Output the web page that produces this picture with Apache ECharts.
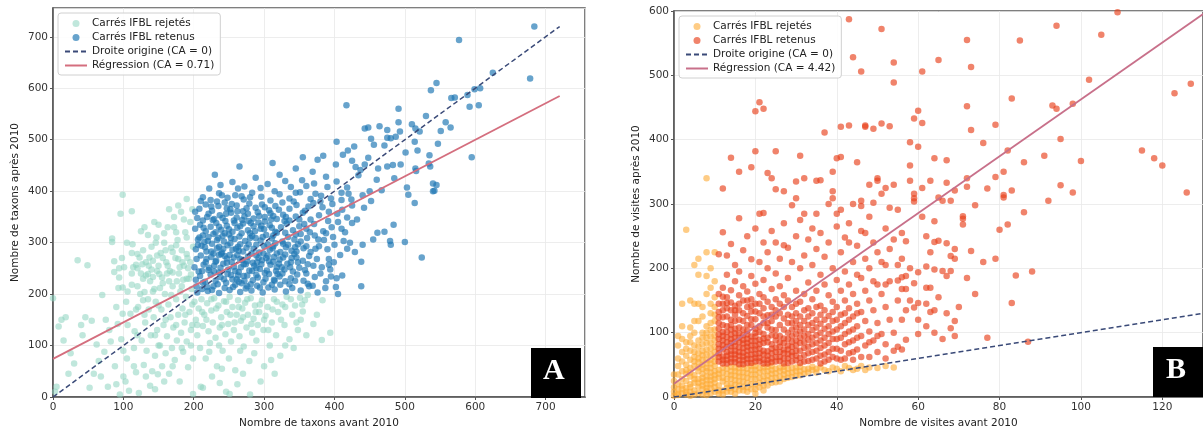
<!DOCTYPE html>
<html><head><meta charset="utf-8">
<script src="https://cdn.jsdelivr.net/npm/echarts@6/dist/echarts.min.js"></script>
<style>html,body{margin:0;padding:0;background:#fff;overflow:hidden}#c{width:1203px;height:434px}</style>
</head><body><div id="c"></div>
<script>
// ---------- Panel A : taxa ----------
const aRetained = [
[205,203],[212,210],[220,206],[228,215],[236,202],[244,212],[251,208],[259,218],[266,204],[274,211],[282,207],[290,216],[298,203],[306,213],[315,209],[323,218],[331,205],[340,212],[352,207],[364,215],[376,203],[402,214],[405,200],[438,215],
[203,228],[209,235],[216,224],[224,238],[231,226],[238,233],[246,222],[253,237],[261,229],[268,221],[276,236],[284,227],[291,232],[299,223],[307,239],[314,228],[322,234],[330,225],[338,231],[347,238],[356,226],[362,220],[372,233],[388,225],[395,234],[403,231],[411,236],
[201,252],[207,244],[214,257],[221,247],[229,255],[236,242],[242,259],[249,248],[257,253],[264,243],[271,258],[279,246],[286,255],[294,249],[301,241],[309,257],[317,245],[325,252],[333,259],[341,244],[350,251],[358,247],[370,255],[382,252],[392,257],[438,263],
[204,268],[210,275],[217,262],[225,272],[232,265],[239,278],[247,269],[254,262],[262,276],[269,266],[277,273],[284,261],[292,270],[299,279],[307,264],[314,272],[322,267],[330,277],[338,262],[346,271],[355,265],[364,274],[375,268],[392,268],[399,262],[524,271],
[203,287],[211,294],[218,283],[226,298],[233,289],[240,281],[248,295],[255,286],[263,292],[270,283],[278,297],[285,288],[293,281],[300,293],[308,286],[316,299],[323,282],[331,291],[339,284],[348,297],[356,289],[366,282],[378,293],[390,287],[429,282],[440,296],[480,296],[500,301],
[206,306],[213,314],[220,303],[228,317],[235,309],[243,302],[250,316],[258,307],[265,312],[273,303],[280,318],[288,309],[295,304],[303,315],[311,308],[318,319],[326,302],[334,311],[343,306],[352,317],[361,309],[372,314],[385,305],[398,311],[413,303],[455,306],[461,319],[471,321],[479,303],
[202,327],[209,335],[217,322],[224,331],[232,338],[239,325],[247,333],[255,321],[262,329],[270,337],[277,324],[285,332],[292,339],[300,326],[308,334],[316,321],[324,330],[332,337],[341,324],[350,332],[360,327],[371,336],[384,322],[396,330],[410,327],[425,338],[484,335],
[205,348],[213,343],[221,356],[229,346],[237,353],[245,342],[253,358],[261,349],[269,344],[277,356],[285,347],[293,352],[301,341],[309,357],[318,346],[327,354],[336,343],[345,351],[355,358],[366,345],[378,353],[391,342],[404,356],[418,349],[432,345],
[208,366],[217,374],[226,362],[235,371],[244,378],[252,365],[261,372],[270,361],[279,376],[288,368],[297,374],[307,363],[316,371],[326,378],[336,366],[346,373],[358,362],[370,377],[383,369],[397,375],[411,364],[425,372],[442,368],[514,377],
[213,388],[224,383],[236,396],[248,387],[259,392],[271,384],[283,397],[296,389],[309,382],[322,394],[336,386],[351,398],[366,385],[381,391],[395,386],[410,397],[424,384],[440,392],[452,381],[450,400],[467,402],[505,393],[540,400],[542,401],[545,412],
[222,405],[238,412],[255,418],[272,409],[288,426],[305,414],[322,432],[338,408],[354,421],[371,415],[388,428],[403,419],[418,407],[434,431],[460,422],[485,425],[503,407],[540,415],[369,438],[230,432],[295,406],
[265,448],[312,455],[345,444],[376,461],[384,469],[402,452],[419,479],[412,471],[430,447],[443,452],[456,490],[452,502],[355,466],[425,459],[437,441],[448,465],[462,444],[475,448],[501,475],[518,479],[535,470],[534,454],[536,448],[515,444],[516,439],
[403,496],[443,522],[448,524],[464,526],[475,519],[491,534],[475,504],[480,503],[487,506],[493,516],[510,530],[515,522],[521,516],[514,496],[530,546],[551,517],[558,534],[565,524],[547,492],[595,466],[417,567],[491,560],[483,451],[494,452],[471,489],[428,487],
[537,596],[545,610],[566,581],[571,582],[589,587],[592,564],[605,567],[599,598],[607,600],[625,630],[577,694],[678,619],[684,720],
[222,251],[231,263],[242,288],[251,276],[266,297],[274,258],[283,245],[297,266],[312,289],[318,252],[244,318],[233,305],[258,338],[287,322],[305,275],[271,235],[255,229],[289,237],[216,291],[208,310],[227,344],[246,356],[264,284],[280,309],[295,327],[310,345],[334,296],[346,283],[360,293],[276,215],[219,214],[236,276],[290,262],[301,350],[248,239],[264,224],[212,245],[225,283],[326,240],[339,270],[315,226],[278,342],[262,361],[233,380],[247,367],[268,390],
[204,215],[213,222],[226,208],[234,219],[243,229],[256,214],[263,236],[272,226],[281,219],[294,213],[302,230],[311,218],[319,239],[336,219],[344,226],[229,244],[238,251],[247,261],[259,245],[267,252],[276,264],[289,250],[296,258],[304,246],[313,263],[321,259],[329,248],[337,252],[218,268],[228,279],[244,274],[257,271],[266,268],[282,279],[289,275],[303,270],[318,279],[327,271],[343,278],[206,296],[215,301],[236,292],[252,299],[260,288],[275,290],[289,296],[305,297],[313,293],[327,298],[344,291],[221,311],[231,320],[241,313],[253,309],[268,318],[283,313],[298,311],[313,314],[330,319],[345,316],[214,329],[236,331],[250,326],[266,332],[281,338],[296,333],[311,329],[329,342],[357,336],[219,350],[241,348],[257,343],[272,351],[291,359],[313,352],[331,350],[350,345],[225,370],[254,375],[275,367],[301,369],[321,364],[342,380],[363,370],[380,380],[392,360],[405,340],[415,320],[422,300],[418,288],[408,276],[394,248],[380,240],[369,216],[387,212],[360,240],[377,306],[365,320],[388,318],[400,296],[352,302],[362,258],[348,262],[373,288],[202,360],[210,381],[240,392],[263,405],[280,388],[315,400],[330,420],[345,397],[360,410],[373,395],[390,408],[410,383],[420,395]
];
const aRejected = [
[0,192],[3,10],[5,20],[8,137],[12,150],[15,110],[18,155],[22,45],[25,85],[30,65],[35,266],[40,140],[42,120],[46,155],[49,256],[52,18],[55,148],[58,45],[62,102],[65,70],[68,40],[70,198],[73,88],[75,150],[78,20],[80,130],[82,108],[84,308],[84,301],[87,264],[87,243],[88,60],[90,175],[92,142],[93,212],[94,250],[94,232],[95,5],[96,356],[97,112],[99,393],[99,213],[99,162],[100,90],
[101,252],[103,30],[104,185],[105,75],[106,140],[108,12],[110,162],[112,361],[112,218],[113,297],[114,252],[115,95],[116,128],[118,257],[118,48],[120,278],[121,175],[122,8],[123,271],[124,200],[125,322],[126,110],[127,258],[128,188],[129,62],[130,204],[131,145],[132,236],[133,90],[135,239],[136,170],[137,271],[138,22],[139,120],[140,292],[141,50],[142,265],[142,233],[143,155],[144,210],[145,80],[146,185],[147,310],[148,130],[149,44],[150,255],
[151,239],[152,100],[153,280],[154,170],[155,60],[156,221],[157,140],[158,300],[159,200],[160,85],[161,262],[162,118],[163,330],[164,180],[165,45],[166,245],[167,155],[168,290],[169,95],[170,215],[171,135],[172,350],[173,72],[174,270],[175,190],[176,110],[177,305],[178,160],[179,240],[180,30],[181,205],[182,125],[183,285],[184,172],[185,88],[186,255],[187,145],[188,320],[189,195],[190,108],[191,270],[192,58],[193,230],[194,165],[195,340],[196,130],[197,210],[198,180],[199,292],[199,75],
[201,185],[203,150],[205,120],[207,172],[209,95],[211,190],[213,138],[215,160],[217,75],[219,182],[221,128],[223,105],[225,168],[227,145],[229,192],[231,115],[233,60],[235,178],[237,135],[239,155],[241,90],[243,186],[245,122],[247,165],[249,142],[251,195],[253,108],[255,175],[257,130],[259,52],[261,160],[263,188],[265,118],[267,148],[269,172],[271,98],[273,183],[275,135],[277,160],[279,70],[281,192],[283,125],[285,152],[287,178],[289,110],[291,140],[293,165],[295,30],[297,188],[299,130],[302,158],[305,175],[308,100],[311,145],[314,190],[317,120],[320,165],[323,80],[326,180],[329,140],[332,195],[336,112],[340,160],[344,178],[348,130],[352,150],[355,166],[358,188],[362,198],[370,142],[382,111],[383,188],[394,125],[351,193],[210,20],[226,40],[246,10],[262,25],[280,5],[240,55],[300,60],[315,45],[330,100],[270,45],[199,6],[213,18],[237,27],[251,6],
[125,240],[132,262],[140,248],[148,275],[155,232],[163,255],[170,242],[178,268],[185,228],[192,250],[128,285],[146,300],[160,285],[175,295],[190,278],[138,225],[152,212],[168,198],[183,215],[196,238],[120,215],[135,190],[150,178],[165,225],[180,252],[195,262],[158,318],[172,330],[186,345],[198,365],[178,372],[165,365],[190,310],[144,340],[130,330],
[205,140],[212,165],[218,150],[225,190],[232,172],[240,140],[246,185],[252,160],[258,145],[264,175],[270,155],[276,190],[282,142],[288,165],[294,180],[300,150],[306,130],[312,170],[318,185],[324,150],[330,175],[338,190],[346,145],[354,180],[222,88],[236,100],[250,75],[266,90],[286,85],[310,72],[342,95],[360,120],[375,160],[190,230],[184,262],[176,225],[170,282],[162,240],[156,270],[148,245],[142,205],[136,255],[128,230],[120,250],[112,240],[106,205],[118,170],[130,160],[145,120],[160,150],[175,140],[188,160],[198,140],[196,100],[183,95],[170,60],[158,30],[145,15],[132,40],[115,60],[100,40],[90,25],[120,120],[150,100],[112,280],[105,300],[98,270],[150,335],[135,315],[175,320],[190,385],[182,360]
];
const aOriginLine = [[0,0],[720,720]];
const aRegLine = [[0,74],[720,585]];

// ---------- Panel B : visits ----------
const bRetained = [
[11,55],[11,68],[11,82],[11,97],[11,115],[11,132],[11,160],[11,222],
[12,52],[12,63],[12,74],[12,88],[12,101],[12,124],[12,145],[12,170],[12,256],[12,324],
[13,58],[13,70],[13,85],[13,93],[13,110],[13,138],[13,155],[13,190],[13,220],
[14,54],[14,66],[14,79],[14,90],[14,105],[14,120],[14,147],[14,166],[14,238],[14,372],
[15,60],[15,72],[15,86],[15,99],[15,128],[15,142],[15,180],[15,205],
[16,51],[16,64],[16,77],[16,92],[16,108],[16,135],[16,158],[16,195],[16,278],[16,350],
[17,57],[17,69],[17,83],[17,96],[17,118],[17,150],[17,172],[17,228],
[18,53],[18,65],[18,78],[18,90],[18,103],[18,126],[18,140],[18,164],[18,250],
[19,59],[19,73],[19,87],[19,112],[19,133],[19,152],[19,188],[19,357],[19,214],
[20,55],[20,67],[20,80],[20,94],[20,106],[20,121],[20,145],[20,176],[20,382],[20,444],[20,262],
[21,61],[21,75],[21,89],[21,101],[21,130],[21,160],[21,210],[21,458],[21,285],
[22,52],[22,66],[22,84],[22,98],[22,115],[22,138],[22,155],[22,182],[22,448],[22,286],[22,240],
[23,58],[23,71],[23,92],[23,108],[23,127],[23,148],[23,200],[23,348],[23,225],
[24,54],[24,68],[24,82],[24,96],[24,118],[24,140],[24,168],[24,340],[24,258],
[25,62],[25,77],[25,88],[25,104],[25,135],[25,152],[25,192],[25,382],[25,323],[25,240],
[26,56],[26,70],[26,85],[26,112],[26,145],[26,172],[26,215],
[27,60],[27,74],[27,91],[27,122],[27,158],[27,320],[27,236],[27,270],
[28,53],[28,67],[28,80],[28,100],[28,128],[28,150],[28,185],[28,232],
[29,64],[29,78],[29,95],[29,115],[29,140],[29,298],[29,210],
[30,57],[30,72],[30,88],[30,108],[30,130],[30,165],[30,309],[30,335],[30,250],
[31,61],[31,84],[31,102],[31,125],[31,148],[31,200],[31,375],[31,275],
[32,55],[32,76],[32,95],[32,118],[32,160],[32,285],[32,340],[32,220],
[33,68],[33,89],[33,112],[33,138],[33,178],[33,245],
[34,58],[34,82],[34,104],[34,130],[34,152],[34,205],[34,262],
[35,72],[35,96],[35,120],[35,165],[35,285],[35,336],[35,230],
[36,64],[36,88],[36,114],[36,142],[36,190],[36,337],[36,255],
[37,55],[37,80],[37,106],[37,135],[37,175],[37,411],[37,218],
[38,70],[38,98],[38,126],[38,158],[38,300],[38,240],
[39,62],[39,90],[39,118],[39,148],[39,350],[39,320],[39,309],[39,200],
[40,75],[40,105],[40,140],[40,182],[40,285],[40,371],[40,265],
[41,58],[41,92],[41,128],[41,165],[41,420],[41,373],[41,291],[41,225],
[42,82],[42,115],[42,150],[42,195],[42,248],
[43,68],[43,102],[43,138],[43,175],[43,422],[43,587],[43,270],
[44,88],[44,125],[44,160],[44,210],[44,528],
[45,74],[45,110],[45,145],[45,365],[45,235],
[46,95],[46,132],[46,185],[46,305],[46,297],[46,506],[46,258],
[47,80],[47,118],[47,165],[47,422],[47,420],[47,215],
[48,62],[48,102],[48,150],[48,200],[48,280],
[49,88],[49,135],[49,302],[49,417],[49,240],
[50,70],[50,115],[50,175],[50,340],[50,336],[50,225],
[51,98],[51,160],[51,316],[51,572],[51,425],
[52,82],[52,140],[52,325],[52,205],[52,262],
[53,120],[53,294],[53,421],[53,180],
[54,100],[54,330],[54,520],[54,489],[54,245],
[55,291],[55,181],[55,150],[55,78],
[56,255],[56,215],[56,168],[56,74],[56,120],
[57,168],[57,89],[57,135],
[58,396],[58,360],[58,336],[58,200],
[59,316],[59,309],[59,304],[59,177],[59,139],[59,433],
[60,445],[60,389],[60,194],[60,146],[60,98],
[61,506],[61,426],[61,325],
[62,250],[62,203],[62,170],[62,110],
[63,336],[63,225],[63,132],
[64,371],[64,273],[64,241],[64,198],[64,135],
[65,524],[65,310],[65,243],
[66,305],[66,196],
[67,368],[67,333],[67,239],[67,188],
[68,305],[68,219],[68,196],[68,107],
[69,321],[69,230],[69,215],[69,118],
[71,277],[71,268],[71,281],[72,555],[72,452],[72,340],[72,327],[73,513],[73,415],[73,227],[74,298],[76,395],[77,324],[77,92],[79,423],[79,342],[79,215],[80,260],[81,350],[81,314],[81,310],[82,383],[82,268],[83,464],[83,321],[83,146],[84,189],[85,554],[86,365],[86,287],[87,86],[88,195],[91,375],[92,305],[93,453],[94,577],[94,448],[95,401],[95,329],[98,456],[98,318],[100,367],[102,493],[105,563],[109,598],[115,383],[118,371],[120,360],[123,472],[126,318],[127,487],
[42,60],[44,70],[46,62],[48,85],[50,95],[52,60],[54,72],[43,240],[45,190],[47,255],[49,180],[51,210],[53,230],[55,205],[57,188],[44,300],[48,330],[52,175],[56,186],[58,150],[60,120],[62,145],[64,100],[66,90],[57,242],[61,280],[63,170],[65,155],[67,130],[69,95],[70,140],[72,185],[74,160],[76,210],
[11,62],[11,75],[11,90],[11,106],[11,124],[11,145],
[12,58],[12,81],[12,95],[12,112],[12,135],[12,156],
[13,52],[13,64],[13,78],[13,101],[13,125],[13,146],
[14,60],[14,72],[14,84],[14,97],[14,112],[14,135],
[15,54],[15,66],[15,79],[15,92],[15,106],[15,118],[15,135],
[16,57],[16,70],[16,85],[16,99],[16,120],[16,145],
[17,51],[17,63],[17,76],[17,89],[17,105],[17,130],
[18,59],[18,72],[18,84],[18,97],[18,112],[18,150],
[19,53],[19,66],[19,80],[19,94],[19,121],[19,142],
[20,61],[20,74],[20,87],[20,100],[20,133],
[21,55],[21,68],[21,82],[21,110],[21,145],
[22,58],[22,72],[22,91],[22,125],
[23,52],[23,64],[23,85],[23,115],
[24,60],[24,75],[24,105],[24,128],
[25,55],[25,70],[25,95],[25,125],
[26,62],[26,78],[26,95],[26,130],[27,52],[27,68],[27,84],[27,105],[27,140],[28,60],[28,74],[28,90],[28,115],[29,55],[29,70],[29,86],[29,105],[29,125],[30,64],[30,80],[30,98],[30,118],[30,145],[31,53],[31,72],[31,92],[31,112],[32,65],[32,85],[32,105],[32,135],[33,56],[33,78],[33,98],[33,125],[34,70],[34,92],[34,115],[35,60],[35,84],[35,108],[35,140],[36,52],[36,76],[36,100],[36,128],[37,66],[37,92],[37,120],[38,58],[38,84],[38,110],[39,75],[39,102],[39,132],[40,60],[40,90],[40,120],[41,72],[41,110],[42,98],[42,130],[43,85],[43,120],[44,58],[44,105],[45,92],[45,130]
];
const bRejected = [
[0,2],[0,8],[0,15],[0,25],
[1,3],[1,12],[1,20],[1,35],[1,48],[1,5],
[2,6],[2,18],[2,28],[2,40],[2,55],[2,70],[2,110],
[3,4],[3,14],[3,25],[3,36],[3,50],[3,64],[3,85],[3,260],
[4,8],[4,20],[4,32],[4,45],[4,58],[4,72],[4,95],[4,108],
[5,10],[5,22],[5,34],[5,48],[5,62],[5,80],[5,100],[5,145],[5,205],
[6,6],[6,16],[6,28],[6,40],[6,54],[6,68],[6,88],[6,118],[6,145],[6,215],
[7,12],[7,24],[7,36],[7,50],[7,65],[7,82],[7,100],[7,125],
[8,9],[8,20],[8,32],[8,45],[8,58],[8,74],[8,92],[8,110],[8,188],[8,225],[8,340],[8,160],
[9,14],[9,26],[9,38],[9,52],[9,66],[9,84],[9,104],[9,130],[9,170],
[10,8],[10,22],[10,34],[10,48],[10,62],[10,78],[10,96],[10,118],[10,140],
[11,5],[11,18],[11,30],[11,42],[12,10],[12,24],[12,38],[13,14],[13,28],[13,44],[14,8],[14,20],[14,34],[14,47],[15,12],[15,26],[15,40],[16,18],[16,32],[16,45],[17,10],[17,24],[17,38],[18,15],[18,30],[18,44],[19,20],[19,35],[19,48],[20,12],[20,28],[20,42],[21,22],[21,38],[22,18],[22,32],[22,46],[23,26],[23,40],[24,22],[24,36],[24,48],[25,30],[25,44],[26,24],[26,40],[27,35],[27,47],[28,30],[28,44],[29,38],[30,33],[30,46],[31,40],[32,36],[33,44],[34,42],[35,38],[36,46],[38,40],[40,44],[42,48],[44,42],[48,46],[50,45],[46,48],
[0,35],[1,60],[1,80],[2,12],[2,90],[3,8],[3,42],[3,75],[4,2],[4,15],[4,38],[4,85],[5,4],[5,28],[5,55],[5,70],[6,22],[6,46],[6,60],[6,78],[7,4],[7,18],[7,30],[7,44],[7,58],[7,72],[7,92],[8,3],[8,14],[8,26],[8,40],[8,52],[8,66],[8,84],[8,100],[9,6],[9,20],[9,32],[9,45],[9,58],[9,75],[9,94],[9,115],[10,15],[10,28],[10,40],[10,55],[10,70],[10,88],[10,105],[10,128],[10,155],[9,145],[7,140],[5,118],[4,150],[2,145],[6,190],[9,200],[10,225],[10,180],[1,95],
[11,10],[11,36],[12,4],[12,30],[12,45],[13,8],[13,20],[13,36],[14,14],[14,28],[14,40],[15,5],[15,19],[15,33],[15,46],[16,10],[16,25],[16,38],[17,16],[17,31],[17,45],[18,8],[18,22],[18,37],[19,12],[19,28],[19,42],[20,5],[20,20],[20,35],[20,48],[21,15],[21,30],[21,45],[22,10],[22,25],[22,40],[23,18],[23,33],[23,47],[24,29],[24,42],[25,23],[25,37],[26,32],[26,46],[27,28],[27,41],[28,37],[29,31],[29,45],[30,40],[31,34],[31,47],[32,43],[33,38],[34,47],[35,44],[37,42],[39,46],[41,40],[43,45],[45,44],[47,42],[52,48],[54,46]
];
const bOriginLine = [[0,0],[140,140]];
const bRegLine = [[0,20.5],[140,639.3]];

const legendTextsA = ['Carrés IFBL rejetés','Carrés IFBL retenus','Droite origine (CA = 0)','Régression (CA = 0.71)'];
const legendTextsB = ['Carrés IFBL rejetés','Carrés IFBL retenus','Droite origine (CA = 0)','Régression (CA = 4.42)'];

const FONT = 'DejaVu Sans';
const nameMap = {aRej:legendTextsA[0],aRet:legendTextsA[1],aOri:legendTextsA[2],aReg:legendTextsA[3],
                 bRej:legendTextsB[0],bRet:legendTextsB[1],bOri:legendTextsB[2],bReg:legendTextsB[3]};

function xAxis(gi,max,interval,name){
  return {type:'value',gridIndex:gi,min:0,max:max,interval:interval,name:name,nameLocation:'middle',nameGap:21,
    nameTextStyle:{fontFamily:FONT,fontSize:10.5,color:'#222'},
    axisLine:{show:true,lineStyle:{color:'#555',width:1.5}},
    axisTick:{show:true,length:3,lineStyle:{color:'#555'}},
    axisLabel:{fontFamily:FONT,fontSize:10.5,color:'#333',margin:5,showMaxLabel:false},
    splitLine:{show:true,lineStyle:{color:'#e9e9e9',width:0.8}}};
}
function yAxis(gi,max,interval,name,showMax){
  return {type:'value',gridIndex:gi,min:0,max:max,interval:interval,name:name,nameLocation:'middle',nameGap:32,
    nameTextStyle:{fontFamily:FONT,fontSize:10.5,color:'#222'},
    axisLine:{show:true,lineStyle:{color:'#555',width:1.5}},
    axisTick:{show:true,length:3,lineStyle:{color:'#555'}},
    axisLabel:{fontFamily:FONT,fontSize:10.5,color:'#333',margin:5,showMaxLabel:showMax},
    splitLine:{show:true,lineStyle:{color:'#e9e9e9',width:0.8}}};
}
function legend(left,top,names){
  return {orient:'vertical',left:left,top:top,
    data:[{name:names[0]},{name:names[1]},{name:names[2],itemStyle:{opacity:0}},{name:names[3],itemStyle:{opacity:0}}],
    itemWidth:22,itemHeight:7,itemGap:3,
    padding:[5,6,4,6],borderColor:'#d0d0d0',borderWidth:1,borderRadius:3,backgroundColor:'rgba(255,255,255,0.85)',
    textStyle:{fontFamily:FONT,fontSize:10.5,color:'#222'},formatter:n=>nameMap[n],selectedMode:false};
}
function scat(name,gi,data,color,op){
  return {name:name,type:'scatter',xAxisIndex:gi,yAxisIndex:gi,data:data,symbolSize:6.5,
    itemStyle:{color:color,opacity:op},emphasis:{disabled:true}};
}
function line(name,gi,data,color,type,w){
  return {name:name,type:'line',xAxisIndex:gi,yAxisIndex:gi,data:data,symbol:'none',z:5,
    lineStyle:{color:color,type:type,width:w},itemStyle:{color:color},emphasis:{disabled:true}};
}

const chart = echarts.init(document.getElementById('c'),null,{renderer:'canvas'});
chart.setOption({
  animation:false,
  backgroundColor:'#fff',
  grid:[
    {left:53,top:8,width:532,height:393,show:true,borderColor:'#555',borderWidth:1.5,containLabel:false},
    {left:674,top:11,width:532,height:390,show:true,borderColor:'#555',borderWidth:1.5,containLabel:false}
  ],
  xAxis:[xAxis(0,756,100,'Nombre de taxons avant 2010'),xAxis(1,130,20,'Nombre de visites avant 2010')],
  yAxis:[yAxis(0,756,100,'Nombre de taxons après 2010',false),yAxis(1,600,100,'Nombre de visites après 2010',true)],
  legend:[legend(58,13,['aRej','aRet','aOri','aReg']),legend(679,16,['bRej','bRet','bOri','bReg'])],
  series:[
    scat('aRej',0,aRejected,'#8dd3c0',0.55),
    scat('aRet',0,aRetained,'#1f78b4',0.68),
    line('aOri',0,aOriginLine,'#3a4a78',[5,3],1.5),
    line('aReg',0,aRegLine,'#d46e7e','solid',1.8),
    scat('bRej',1,bRejected,'#fdaa33',0.6),
    scat('bRet',1,bRetained,'#e8401c',0.65),
    line('bOri',1,bOriginLine,'#3a4a78',[5,3],1.5),
    line('bReg',1,bRegLine,'#c8708a','solid',1.8)
  ],
  graphic:[
    {type:'rect',left:531,top:348,shape:{width:50,height:50},style:{fill:'#000'},z:100},
    {type:'text',left:543,top:356,style:{text:'A',fill:'#fff',font:'bold 30px "Liberation Serif", "DejaVu Serif", serif'},z:101},
    {type:'rect',left:1153,top:347,shape:{width:50,height:50},style:{fill:'#000'},z:100},
    {type:'text',left:1166,top:355,style:{text:'B',fill:'#fff',font:'bold 30px "Liberation Serif", "DejaVu Serif", serif'},z:101}
  ]
});
</script></body></html>
